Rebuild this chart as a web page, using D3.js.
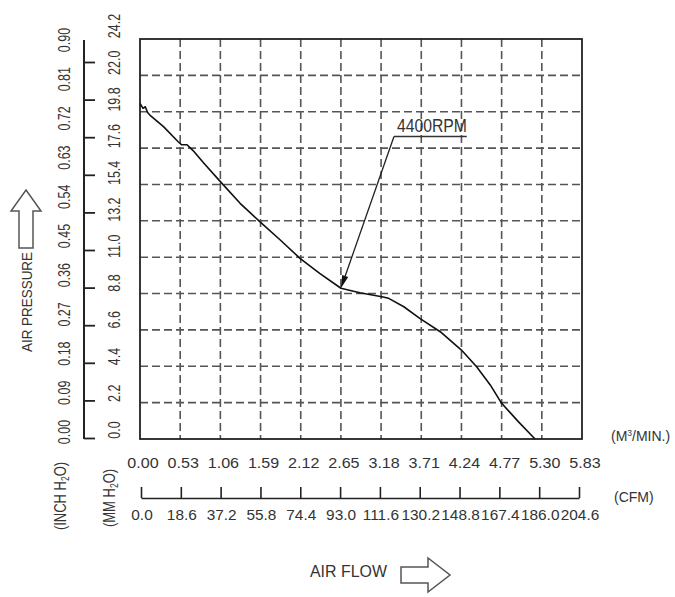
<!DOCTYPE html>
<html>
<head>
<meta charset="utf-8">
<script src="https://cdn.jsdelivr.net/npm/d3@7"></script>
<style>
  html, body { margin: 0; padding: 0; background: #fff; }
  svg { display: block; }
  text { font-family: "Liberation Sans", Arial, sans-serif; fill: #333; }
</style>
</head>
<body>
<svg id="chart" width="675" height="597"></svg>
<script>
// ---- data ----
const flowTicks = ["0.00","0.53","1.06","1.59","2.12","2.65","3.18","3.71","4.24","4.77","5.30","5.83"]; // M3/MIN
const cfmTicks = ["0.0","18.6","37.2","55.8","74.4","93.0","111.6","130.2","148.8","167.4","186.0","204.6"]; // CFM
const inchTicks = ["0.00","0.09","0.18","0.27","0.36","0.45","0.54","0.63","0.72","0.81","0.90"]; // INCH H2O
const mmTicks = ["0.0","2.2","4.4","6.6","8.8","11.0","13.2","15.4","17.6","19.8","22.0","24.2"]; // MM H2O

// fan curve 4400RPM: airflow (M3/MIN) vs static pressure (MM H2O)
const flow = [0, 0.04, 0.07, 0.10, 0.13, 0.31, 0.50, 0.55, 0.62, 0.70, 0.84, 1.06, 1.32, 1.58, 1.85, 2.11, 2.37, 2.65, 2.90, 3.19, 3.28, 3.48, 3.69, 3.96, 4.24, 4.44, 4.62, 4.77, 4.99, 5.21];
const pressure = [20.3, 20.0, 20.1, 19.75, 19.6, 18.9, 18.0, 17.8, 17.8, 17.45, 16.7, 15.57, 14.26, 13.15, 12.04, 10.93, 10.02, 9.12, 8.85, 8.61, 8.51, 8.0, 7.3, 6.49, 5.38, 4.37, 3.27, 2.16, 1.05, 0];

const seriesName = "4400RPM";
const annotationFlow = [3.35, 4.31];   // leader start / underline end
const annotationPressure = 18.3;
const annotationTarget = [2.65, 9.12]; // arrow tip on the curve

// ---- drawing ----
const svg = d3.select("#chart");

const x = d3.scaleLinear().domain([0, 5.83]).range([140, 582]);
const y = d3.scaleLinear().domain([0, 24.2]).range([439, 39]);
const xCfm = d3.scaleLinear().domain([0, 204.6]).range([141, 579]);
const yInch = d3.scaleLinear().domain([0, 0.9]).range([438, 62]);
const yInchLabel = d3.scaleLinear().domain([0, 0.9]).range([432, 40]);
const yMmLabel = d3.scaleLinear().domain([0, 24.2]).range([430, 26]);

// grid
const grid = svg.append("g")
  .attr("stroke", "#555").attr("stroke-width", 1.6).attr("stroke-dasharray", "8,4");
grid.selectAll("line.v").data(flowTicks.slice(1, -1)).join("line")
  .attr("class", "v")
  .attr("x1", d => x(+d)).attr("x2", d => x(+d))
  .attr("y1", y(24.2)).attr("y2", y(0));
grid.selectAll("line.h").data(mmTicks.slice(1, -1)).join("line")
  .attr("class", "h")
  .attr("x1", x(0)).attr("x2", x(5.83))
  .attr("y1", d => y(+d)).attr("y2", d => y(+d));

// plot frame
svg.append("rect")
  .attr("x", x(0)).attr("y", y(24.2))
  .attr("width", x(5.83) - x(0)).attr("height", y(0) - y(24.2))
  .attr("fill", "none").attr("stroke", "#222").attr("stroke-width", 1.8);

// M3/MIN labels
svg.append("g").selectAll("text").data(flowTicks).join("text")
  .attr("transform", d => `translate(${x(+d) + 3},468) scale(1.15,1)`)
  .attr("text-anchor", "middle").attr("font-size", 14)
  .text(d => d);

// CFM axis
const cfmAxis = svg.append("g").attr("transform", "translate(0,498)")
  .call(d3.axisTop(xCfm).tickValues(cfmTicks.map(Number)).tickSize(11).tickSizeOuter(0).tickFormat(""));
cfmAxis.select(".domain").attr("stroke", "#222").attr("stroke-width", 1.6);
cfmAxis.selectAll(".tick line").attr("stroke", "#222").attr("stroke-width", 1.6);
svg.append("g").selectAll("text").data(cfmTicks).join("text")
  .attr("transform", d => `translate(${xCfm(+d) + 1},520) scale(1.1,1)`)
  .attr("text-anchor", "middle").attr("font-size", 14)
  .text(d => d);

// INCH H2O axis
const inchAxis = svg.append("g").attr("transform", "translate(84,0)")
  .call(d3.axisRight(yInch).tickValues(inchTicks.map(Number)).tickSize(11).tickSizeOuter(0).tickFormat(""));
inchAxis.select(".domain").remove();
inchAxis.selectAll(".tick line").attr("stroke", "#222").attr("stroke-width", 1.8);
inchAxis.append("line").attr("x1", 0).attr("x2", 0)
  .attr("y1", yInch(0.9) - 22).attr("y2", yInch(0) + 0.9)
  .attr("stroke", "#222").attr("stroke-width", 2);

svg.append("g").selectAll("text").data(inchTicks).join("text")
  .attr("transform", d => `translate(64,${yInchLabel(+d)}) rotate(-90) scale(1,1.3)`)
  .attr("text-anchor", "middle").attr("dy", "0.35em").attr("font-size", 12.5)
  .text(d => d);

svg.append("g").selectAll("text").data(mmTicks).join("text")
  .attr("transform", d => `translate(114,${yMmLabel(+d)}) rotate(-90) scale(1,1.3)`)
  .attr("text-anchor", "middle").attr("dy", "0.35em").attr("font-size", 12.5)
  .text(d => d);

// unit labels
const m3 = svg.append("text").attr("x", 611).attr("y", 441).attr("font-size", 14);
m3.append("tspan").text("(M");
m3.append("tspan").attr("font-size", 8.5).attr("dy", -5).text("3");
m3.append("tspan").attr("dy", 5).text("/MIN.)");

svg.append("text").attr("x", 614).attr("y", 502).attr("font-size", 14).text("(CFM)");

function rotatedUnit(cx, cy, head) {
  const t = svg.append("text")
    .attr("transform", `translate(${cx},${cy}) rotate(-90) scale(1,1.25)`)
    .attr("text-anchor", "middle").attr("dy", "0.35em").attr("font-size", 13);
  t.append("tspan").text(head + " H");
  t.append("tspan").attr("font-size", 8.5).attr("dy", 3).text("2");
  t.append("tspan").attr("dy", -3).text("O)");
}
rotatedUnit(60, 496, "(INCH");
rotatedUnit(109, 498, "(MM");

// curve
const pts = flow.map((f, i) => [f, pressure[i]]);
svg.append("path").datum(pts)
  .attr("fill", "none").attr("stroke", "#111").attr("stroke-width", 1.6)
  .attr("stroke-linejoin", "round")
  .attr("d", d3.line().x(d => x(d[0])).y(d => y(d[1])));

// annotation
const ax0 = x(annotationFlow[0]), ay0 = y(annotationPressure);
const tx = x(annotationTarget[0]), ty = y(annotationTarget[1]);
svg.append("line").attr("x1", ax0).attr("y1", ay0).attr("x2", x(annotationFlow[1])).attr("y2", ay0)
  .attr("stroke", "#333").attr("stroke-width", 1.3);
const ang = Math.atan2(ty - ay0, tx - ax0);
const hl = 13, hw = 3.2;
const bx = tx - hl * Math.cos(ang), by = ty - hl * Math.sin(ang);
svg.append("line").attr("x1", ax0).attr("y1", ay0).attr("x2", bx).attr("y2", by)
  .attr("stroke", "#222").attr("stroke-width", 1.3);
svg.append("path")
  .attr("d", `M${tx},${ty} L${bx - hw * Math.sin(ang)},${by + hw * Math.cos(ang)} L${bx + hw * Math.sin(ang)},${by - hw * Math.cos(ang)} Z`)
  .attr("fill", "#111");
svg.append("text").attr("x", ax0 + 3).attr("y", ay0 - 5)
  .attr("font-size", 19).attr("textLength", 70).attr("lengthAdjust", "spacingAndGlyphs")
  .text(seriesName);

// AIR PRESSURE title + arrow
svg.append("text")
  .attr("transform", "translate(27,302) rotate(-90)")
  .attr("text-anchor", "middle").attr("dy", "0.35em").attr("font-size", 15)
  .attr("textLength", 100).attr("lengthAdjust", "spacingAndGlyphs")
  .text("AIR PRESSURE");
svg.append("path")
  .attr("d", "M26,190 L41,211 L33,211 L33,248 L19,248 L19,211 L11,211 Z")
  .attr("fill", "#fff").attr("stroke", "#555").attr("stroke-width", 1.5).attr("stroke-linejoin", "miter");

// AIR FLOW title + arrow
svg.append("text").attr("x", 310).attr("y", 577).attr("font-size", 16)
  .attr("textLength", 77).attr("lengthAdjust", "spacingAndGlyphs")
  .text("AIR FLOW");
svg.append("path")
  .attr("d", "M401,567 L428,567 L428,558 L450,575 L428,592 L428,583 L401,583 Z")
  .attr("fill", "#fff").attr("stroke", "#555").attr("stroke-width", 1.5);
</script>
</body>
</html>
